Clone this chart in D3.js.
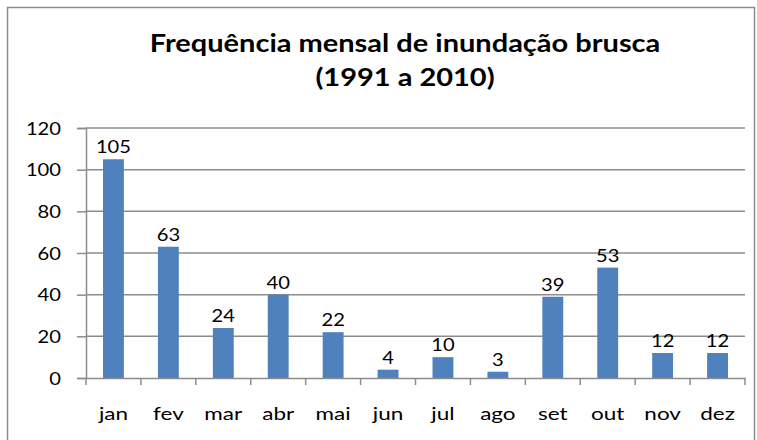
<!DOCTYPE html>
<html>
<head>
<meta charset="utf-8">
<script src="https://cdn.jsdelivr.net/npm/d3@7"></script>
<style>
body { margin: 0; background: #fff; }
text { font-family: Lato, "Open Sans", sans-serif; fill: #000; }
.title { font-weight: bold; font-size: 25px; }
.tick text { font-size: 18px; }
.label { font-size: 18px; }
</style>
</head>
<body>
<div id="drawing"></div>
<script>
"use strict"

/**** Data ****/
let months = ["jan","fev","mar","abr","mai","jun","jul","ago","set","out","nov","dez"]
let counts = [105, 63, 24, 40, 22, 4, 10, 3, 39, 53, 12, 12]
let yTicks = [0, 20, 40, 60, 80, 100, 120]
let titleLines = ["Frequência mensal de inundação brusca", "(1991 a 2010)"]

/**** Canvas ****/
let svgWidth = 757
let svgHeight = 440

let leftMargin = 86
let rightMargin = 12
let topMargin = 128
let bottomMargin = 62

/* the reference text is a bit wider than Lato, so stretch it */
let digitStretch = 1.12
let wordStretch = 1.25
let titleStretch = 1.16

let svg = d3.select("#drawing")
.append("svg")
.attr("width", svgWidth)
.attr("height", svgHeight)

/* outer border */
svg.append("rect")
.attr("x", 7.5)
.attr("y", 7.5)
.attr("width", 747)
.attr("height", 440)
.attr("fill", "none")
.attr("stroke", "#8c8c8c")
.attr("stroke-width", 1.5)

/**** Scales ****/
let xScale = d3.scaleBand()
.domain(months)
.range([leftMargin, svgWidth - rightMargin])
.paddingInner(0.62)
.paddingOuter(0.31)

let yScale = d3.scaleLinear()
.domain([0, 120])
.range([svgHeight - bottomMargin, topMargin])

/**** Gridlines ****/
svg.selectAll("line.grid")
.data(yTicks.filter(d => d > 0))
.join("line")
.attr("class", "grid")
.attr("x1", leftMargin)
.attr("x2", svgWidth - rightMargin)
.attr("y1", d => yScale(d))
.attr("y2", d => yScale(d))
.attr("stroke", "#8c8c8c")
.attr("stroke-width", 1.5)

/**** Bars ****/
svg.selectAll("rect.bar")
.data(counts)
.join("rect")
.attr("class", "bar")
.attr("x", (d, i) => xScale(months[i]))
.attr("y", d => yScale(d))
.attr("width", xScale.bandwidth())
.attr("height", d => yScale(0) - yScale(d))
.attr("fill", "#4f81bd")

/* value labels */
svg.selectAll("text.label")
.data(counts)
.join("text")
.attr("class", "label")
.attr("transform", (d, i) => `translate(${xScale(months[i]) + xScale.bandwidth() / 2},${yScale(d) - 6}) scale(${digitStretch},1)`)
.style("text-anchor", "middle")
.text(d => d)

/**** Axes ****/
let yAxis = svg.append("g")
.attr("transform", `translate(${leftMargin},0)`)
.call(d3.axisLeft(yScale).tickValues(yTicks).tickSize(9))

yAxis.selectAll(".tick text")
.attr("x", 0)
.attr("dy", "0.35em")
.attr("transform", `translate(-25,0) scale(${digitStretch},1)`)

let xAxis = svg.append("g")
.attr("transform", `translate(0,${yScale(0)})`)
.call(d3.axisBottom(xScale).tickSize(0))

xAxis.selectAll(".tick text")
.attr("y", 0)
.attr("dy", 0)
.attr("transform", `translate(0,42) scale(${wordStretch},1)`)

/* band boundary ticks below x axis */
let boundaries = months.map(m => xScale(m) - xScale.step() * xScale.paddingInner() / 2)
boundaries.push(svgWidth - rightMargin)
xAxis.selectAll("line.bound")
.data(boundaries)
.join("line")
.attr("class", "bound")
.attr("x1", d => d)
.attr("x2", d => d)
.attr("y1", 0)
.attr("y2", 7)
.attr("stroke", "#8c8c8c")
.attr("stroke-width", 1.5)

svg.selectAll(".domain, .tick line")
.attr("stroke", "#8c8c8c")
.attr("stroke-width", 1.5)

/**** Title ****/
svg.selectAll("text.title")
.data(titleLines)
.join("text")
.attr("class", "title")
.attr("transform", (d, i) => `translate(405,${52 + i * 34}) scale(${titleStretch},1)`)
.style("text-anchor", "middle")
.text(d => d)
</script>
</body>
</html>
